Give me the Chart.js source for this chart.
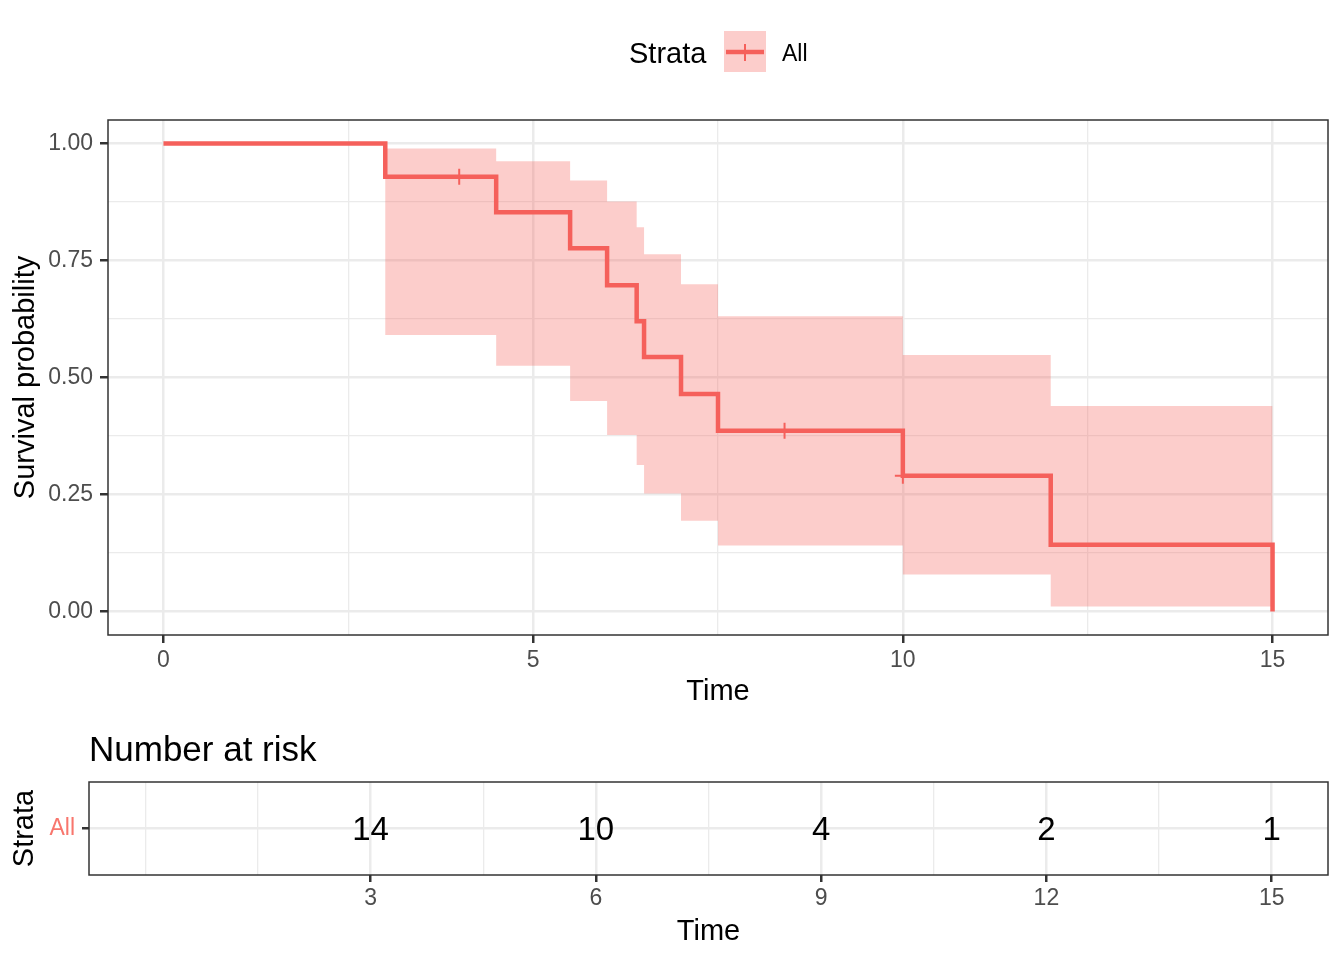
<!DOCTYPE html>
<html>
<head>
<meta charset="utf-8">
<script src="https://cdn.jsdelivr.net/npm/chart.js@4"></script>
<style>
  body { margin: 0; background: #fff; }
  #wrap { position: relative; width: 1344px; height: 960px; }
  canvas { position: absolute; left: 0; }
  #survChart { top: 0; }
  #riskChart { top: 720px; }
</style>
</head>
<body>
<div id="wrap">
  <canvas id="survChart" width="1344" height="720"></canvas>
  <canvas id="riskChart" width="1344" height="240"></canvas>
</div>
<script>
'use strict';

// survival curve (step values after each time)
const eventTimes = [0, 3, 4.5, 5.5, 6, 6.4, 6.5, 7, 7.5, 10, 12, 15];
const survival = [1, 0.929, 0.853, 0.776, 0.697, 0.620, 0.544, 0.465, 0.386, 0.290, 0.143, 0];
const upperCI = [1, 0.989, 0.962, 0.921, 0.876, 0.821, 0.763, 0.699, 0.631, 0.548, 0.439, 0.439];
const lowerCI = [1, 0.591, 0.525, 0.450, 0.377, 0.313, 0.252, 0.194, 0.141, 0.079, 0.011, 0.011];

// censored observations
const censorTimes = [4, 8.4, 10];
const censorSurv = [0.929, 0.386, 0.290];

// number at risk table
const riskTimes = [3, 6, 9, 12, 15];
const riskCounts = [14, 10, 4, 2, 1];
const strataLabel = 'All';

// axis breaks
const survXBreaks = [0, 2.5, 5, 7.5, 10, 12.5, 15];
const survXLabels = [0, 5, 10, 15];
const survYBreaks = [0, 0.125, 0.25, 0.375, 0.5, 0.625, 0.75, 0.875, 1];
const survYLabels = [0, 0.25, 0.5, 0.75, 1];
const riskXBreaks = [0, 1.5, 3, 4.5, 6, 7.5, 9, 10.5, 12, 13.5, 15];
const riskXLabels = [3, 6, 9, 12, 15];

const RED = '#F5605B';
const BAND = 'rgba(245,98,94,0.32)';
const GRID = '#EBEBEB';
const FONT = '"Liberation Sans", Arial, Helvetica, sans-serif';

Chart.defaults.font.family = FONT;
Chart.defaults.animation = false;

function isIn(list, v) {
  return list.some(b => Math.abs(b - v) < 1e-9);
}

function setTicks(breaks) {
  return function(scale) {
    scale.ticks = breaks.map(v => ({value: v}));
  };
}

function gridOpts(labels, tickLen) {
  return {
    color: GRID,
    lineWidth: c => isIn(labels, c.tick.value) ? 2.5 : 1.3,
    tickColor: c => isIn(labels, c.tick.value) ? '#333333' : 'rgba(0,0,0,0)',
    tickWidth: 2.5,
    tickLength: tickLen,
    drawTicks: true
  };
}

const panelBorder = {
  id: 'panelBorder',
  afterDraw(chart) {
    const a = chart.chartArea;
    const ctx = chart.ctx;
    ctx.save();
    ctx.strokeStyle = '#333333';
    ctx.lineWidth = 1.5;
    ctx.strokeRect(a.left, a.top, a.right - a.left, a.bottom - a.top);
    ctx.restore();
  }
};

const strataLegend = {
  id: 'strataLegend',
  afterDraw(chart) {
    const ctx = chart.ctx;
    ctx.save();
    ctx.fillStyle = '#000';
    ctx.font = '29px ' + FONT;
    ctx.textBaseline = 'alphabetic';
    ctx.fillText('Strata', 629, 63);
    ctx.fillStyle = BAND;
    ctx.fillRect(724, 31, 42, 41);
    ctx.strokeStyle = RED;
    ctx.lineWidth = 4.5;
    ctx.beginPath();
    ctx.moveTo(726, 52);
    ctx.lineTo(764, 52);
    ctx.stroke();
    ctx.lineWidth = 2;
    ctx.beginPath();
    ctx.moveTo(745, 44);
    ctx.lineTo(745, 61);
    ctx.stroke();
    ctx.fillStyle = '#000';
    ctx.font = '23px ' + FONT;
    ctx.fillText(strataLabel, 782, 61);
    ctx.restore();
  }
};

const toXY = (xs, ys) => xs.map((x, i) => ({x: x, y: ys[i]}));

new Chart(document.getElementById('survChart'), {
  type: 'line',
  data: {
    datasets: [
      {
        data: toXY(eventTimes, survival),
        borderColor: RED,
        borderWidth: 4.5,
        stepped: 'before',
        pointRadius: 0,
        fill: false,
        borderCapStyle: 'butt',
        borderJoinStyle: 'miter'
      },
      {
        data: toXY(censorTimes, censorSurv),
        showLine: false,
        pointStyle: 'cross',
        pointRadius: 8,
        pointBorderWidth: 2,
        pointBorderColor: RED,
        borderColor: RED
      },
      {
        data: toXY(eventTimes, upperCI),
        borderWidth: 0,
        borderColor: 'rgba(0,0,0,0)',
        backgroundColor: BAND,
        stepped: 'before',
        pointRadius: 0,
        fill: '+1'
      },
      {
        data: toXY(eventTimes, lowerCI),
        borderWidth: 0,
        borderColor: 'rgba(0,0,0,0)',
        stepped: 'before',
        pointRadius: 0,
        fill: false
      }
    ]
  },
  options: {
    responsive: false,
    layout: {padding: {top: 120, right: 16, left: 0, bottom: 0}},
    plugins: {legend: {display: false}, tooltip: {enabled: false}},
    scales: {
      x: {
        type: 'linear',
        min: -0.75,
        max: 15.75,
        afterBuildTicks: setTicks(survXBreaks),
        afterFit: s => { s.height = 85; },
        grid: gridOpts(survXLabels, 8),
        border: {display: false},
        ticks: {
          autoSkip: false,
          maxRotation: 0,
          padding: 6,
          color: '#4D4D4D',
          font: {size: 23, lineHeight: 1},
          callback: v => isIn(survXLabels, v) ? String(v) : ''
        },
        title: {display: true, text: 'Time', color: '#000', font: {size: 29}, padding: {top: 0, bottom: 11}}
      },
      y: {
        type: 'linear',
        min: -0.05,
        max: 1.05,
        afterBuildTicks: setTicks(survYBreaks),
        afterFit: s => { s.width = 108; },
        grid: gridOpts(survYLabels, 8),
        border: {display: false},
        ticks: {
          autoSkip: false,
          padding: 7,
          color: '#4D4D4D',
          font: {size: 23, lineHeight: 1},
          callback: v => isIn(survYLabels, v) ? v.toFixed(2) : ''
        },
        title: {display: true, text: 'Survival probability', color: '#000', font: {size: 29}, padding: {top: 8.6, bottom: 0}}
      }
    }
  },
  plugins: [panelBorder, strataLegend]
});

const riskText = {
  id: 'riskText',
  afterDatasetsDraw(chart) {
    const ctx = chart.ctx;
    const meta = chart.getDatasetMeta(0);
    ctx.save();
    ctx.fillStyle = '#000';
    ctx.font = '33px ' + FONT;
    ctx.textAlign = 'center';
    ctx.textBaseline = 'middle';
    meta.data.forEach((pt, i) => {
      ctx.fillText(String(riskCounts[i]), pt.x, pt.y + 2);
    });
    ctx.textAlign = 'left';
    ctx.textBaseline = 'alphabetic';
    ctx.font = '35px ' + FONT;
    ctx.fillText('Number at risk', chart.chartArea.left, 41);
    ctx.restore();
  }
};

new Chart(document.getElementById('riskChart'), {
  type: 'scatter',
  data: {
    datasets: [{
      data: riskTimes.map(t => ({x: t, y: 1})),
      pointRadius: 0
    }]
  },
  options: {
    responsive: false,
    layout: {padding: {top: 62, right: 16, left: 0, bottom: 0}},
    plugins: {legend: {display: false}, tooltip: {enabled: false}},
    scales: {
      x: {
        type: 'linear',
        min: -0.75,
        max: 15.75,
        afterBuildTicks: setTicks(riskXBreaks),
        afterFit: s => { s.height = 85; },
        grid: gridOpts(riskXLabels, 7),
        border: {display: false},
        ticks: {
          autoSkip: false,
          maxRotation: 0,
          padding: 5,
          color: '#4D4D4D',
          font: {size: 23, lineHeight: 1},
          callback: v => isIn(riskXLabels, v) ? String(v) : ''
        },
        title: {display: true, text: 'Time', color: '#000', font: {size: 29}, padding: {top: 0, bottom: 10.6}}
      },
      y: {
        type: 'linear',
        min: 0,
        max: 2,
        afterBuildTicks: setTicks([1]),
        afterFit: s => { s.width = 89; },
        grid: gridOpts([1], 7),
        border: {display: false},
        ticks: {
          autoSkip: false,
          padding: 7,
          color: '#F8766D',
          font: {size: 23, lineHeight: 1},
          callback: () => strataLabel
        },
        title: {display: true, text: 'Strata', color: '#000', font: {size: 29}, padding: {top: 7.6, bottom: 0}}
      }
    }
  },
  plugins: [panelBorder, riskText]
});
</script>
</body>
</html>
